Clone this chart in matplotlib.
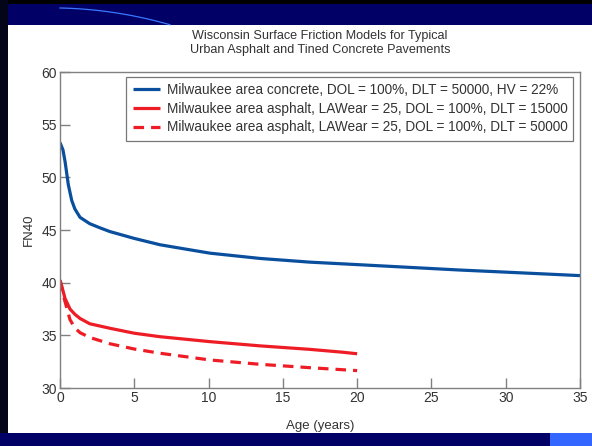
import numpy as np
import matplotlib
matplotlib.use("Agg")
import matplotlib.pyplot as plt
from matplotlib.patches import Rectangle
from matplotlib.lines import Line2D

plt.rcParams['font.family'] = ['Liberation Sans', 'DejaVu Sans']

# concrete, DLT = 50000
age_concrete = [0, 0.2, 0.34, 0.56, 0.79, 1.0, 1.35, 2.0, 2.7, 3.36, 5, 6.73, 8.4,
                10.1, 13.46, 16.8, 20.2, 26.9, 30, 35]
fn_concrete = [53.3, 52.6, 51.5, 49.3, 47.8, 47.0, 46.2, 45.6, 45.2, 44.85, 44.2, 43.6, 43.2,
               42.8, 42.3, 41.95, 41.7, 41.2, 41.0, 40.67]

# asphalt, DLT = 15000
age_asph15 = [0, 0.15, 0.34, 0.67, 1.0, 1.35, 2.0, 3.36, 5, 6.73, 10.1, 13.46, 16.8, 19.0, 20]
fn_asph15 = [40.25, 39.5, 38.5, 37.5, 37.0, 36.6, 36.1, 35.67, 35.2, 34.87, 34.4, 34.0,
             33.67, 33.4, 33.25]

# asphalt, DLT = 50000
age_asph50 = [0, 0.15, 0.3, 0.67, 1.0, 1.35, 2.0, 3.36, 5, 6.73, 10.1, 13.46, 16.8, 20]
fn_asph50 = [40.2, 39.4, 38.4, 36.5, 35.7, 35.25, 34.8, 34.2, 33.7, 33.3, 32.66, 32.25,
             31.93, 31.65]

labels = ["Milwaukee area concrete, DOL = 100%, DLT = 50000, HV = 22%",
          "Milwaukee area asphalt, LAWear = 25, DOL = 100%, DLT = 15000",
          "Milwaukee area asphalt, LAWear = 25, DOL = 100%, DLT = 50000"]

navy = '#000066'
blue = '#0a4f9e'
red = '#ee1c25'
grey = '#808080'
txt = '#333333'

fig = plt.figure(figsize=(5.92, 4.46), dpi=100)
fig.patch.set_facecolor('white')

# slide frame
fig.add_artist(Rectangle((0, 1 - 25 / 446), 1, 25 / 446, transform=fig.transFigure,
                         facecolor=navy, edgecolor='none', zorder=0))
fig.add_artist(Rectangle((0, 1 - 4 / 446), 1, 4 / 446, transform=fig.transFigure,
                         facecolor='black', edgecolor='none', zorder=0))
fig.add_artist(Rectangle((0, 0), 8 / 592, 1, transform=fig.transFigure,
                         facecolor='#05051a', edgecolor='none', zorder=0))
fig.add_artist(Rectangle((0, 0), 1, 13 / 446, transform=fig.transFigure,
                         facecolor=navy, edgecolor='none', zorder=0))
fig.add_artist(Rectangle((550 / 592, 0), 42 / 592, 13 / 446, transform=fig.transFigure,
                         facecolor='#3366ff', edgecolor='none', zorder=0))
sx = np.linspace(60, 170, 30)
sy = 438 - 0.0012 * (sx - 60) ** 2 - 0.02 * (sx - 60)
fig.add_artist(Line2D(sx / 592, sy / 446, transform=fig.transFigure,
                      color='#3a78ff', lw=0.9, zorder=1))

ax = fig.add_axes([60 / 592, 58 / 446, 520 / 592, 316 / 446])
ax.plot(age_concrete, fn_concrete, color=blue, lw=2.3, label=labels[0],
        solid_capstyle='butt')
ax.plot(age_asph15, fn_asph15, color=red, lw=2.3, label=labels[1],
        solid_capstyle='butt')
ax.plot(age_asph50, fn_asph50, color=red, lw=2.3, label=labels[2],
        dashes=(3.3, 2.2))

ax.set_xlim(0, 35)
ax.set_ylim(30, 60)
ax.set_xticks(range(0, 36, 5))
ax.set_yticks(range(30, 61, 5))
for s in ax.spines.values():
    s.set_color(grey)
    s.set_linewidth(1)
ax.tick_params(direction='in', length=7, width=1, color=grey,
               labelsize=10, labelcolor=txt, pad=2)

ax.set_xlabel('Age (years)', fontsize=9.5, color=txt, labelpad=11)
ax.set_ylabel('FN40', fontsize=9.5, color=txt, labelpad=5)
ax.set_title('Wisconsin Surface Friction Models for Typical\n'
             'Urban Asphalt and Tined Concrete Pavements',
             fontsize=9.1, color=txt, pad=13.5, linespacing=1.2)

leg = ax.legend(loc='upper right', bbox_to_anchor=(0.99, 0.99), fontsize=9.8,
                frameon=True, fancybox=False, handlelength=2.0, handletextpad=0.5,
                borderpad=0.45, labelspacing=0.36, borderaxespad=0.1)
leg.get_frame().set_edgecolor('#555555')
leg.get_frame().set_linewidth(0.9)
for t in leg.get_texts():
    t.set_color(txt)

fig.savefig('out.png', dpi=100)
